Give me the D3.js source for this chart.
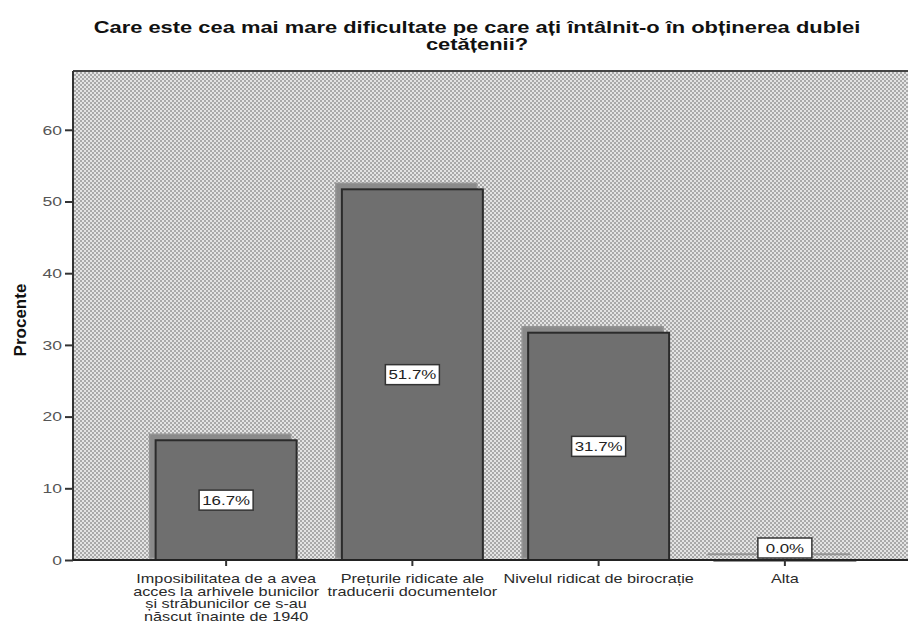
<!DOCTYPE html>
<html>
<head>
<meta charset="utf-8">
<script src="https://cdn.jsdelivr.net/npm/d3@7"></script>
<style>
  body{margin:0;background:#fff;}
  svg{display:block;font-family:"Liberation Sans",Arial,sans-serif;}
</style>
</head>
<body>
<div id="chart"></div>
<script>
// date
var categorii=[
    ["Imposibilitatea de a avea","acces la arhivele bunicilor","și străbunicilor ce s-au","născut înainte de 1940"],
    ["Prețurile ridicate ale","traducerii documentelor"],
    ["Nivelul ridicat de birocrație"],
    ["Alta"]
];
var procente=[16.7,51.7,31.7,0.0];
var etichete=["16.7%","51.7%","31.7%","0.0%"];
var yTicks=[0,10,20,30,40,50,60];

var width=908,height=633;
var margin={left:73,right:0,top:71,bottom:73};
var sx=1.3; //textul din imagine e intins pe orizontala

var svg=d3.select("#chart").append("svg")
    .attr("width",width)
    .attr("height",height);

// fundal in carouri
var defs=svg.append("defs");
var pat=defs.append("pattern")
    .attr("id","carouri")
    .attr("patternUnits","userSpaceOnUse")
    .attr("width",4).attr("height",4);
pat.append("rect").attr("width",4).attr("height",4).attr("fill","#e4e4e4");
pat.append("rect").attr("width",2).attr("height",2).attr("fill","#a9a9a9");
pat.append("rect").attr("x",2).attr("y",2).attr("width",2).attr("height",2).attr("fill","#a9a9a9");

var idx=d3.range(procente.length);
var x=d3.scaleBand()
    .domain(idx)
    .range([133,878])
    .paddingInner(0.243)
    .paddingOuter(0.1215);
var y=d3.scaleLinear()
    .domain([0,68.2])
    .range([height-margin.bottom,margin.top]);

svg.append("rect")
    .attr("x",margin.left).attr("y",margin.top)
    .attr("width",width-margin.left).attr("height",y(0)-margin.top)
    .attr("fill","url(#carouri)");

// titlu
var titlu=svg.append("g")
    .attr("transform","translate(477,0) scale(1.37,1)");
titlu.append("text")
    .attr("text-anchor","middle")
    .attr("font-weight","bold")
    .attr("font-size",16)
    .attr("fill","#111")
    .attr("x",0).attr("y",33)
    .text("Care este cea mai mare dificultate pe care ați întâlnit-o în obținerea dublei");
titlu.append("text")
    .attr("text-anchor","middle")
    .attr("font-weight","bold")
    .attr("font-size",16)
    .attr("fill","#111")
    .attr("x",0).attr("y",50)
    .text("cetățenii?");

// umbre
svg.append("g").selectAll("rect")
    .data(idx)
    .enter().append("rect")
    .attr("x",function(i){return x(i)-6;})
    .attr("y",function(i){return y(procente[i])-6;})
    .attr("width",x.bandwidth())
    .attr("height",function(i){var h=y(0)-y(procente[i]);return h>0?h+4:0.5;})
    .attr("fill","#8a8a8a")
    .attr("stroke","#949494")
    .attr("stroke-width",1.5);

// bare
svg.append("g").selectAll("rect")
    .data(idx)
    .enter().append("rect")
    .attr("x",function(i){return x(i);})
    .attr("y",function(i){return y(procente[i]);})
    .attr("width",x.bandwidth())
    .attr("height",function(i){return Math.max(y(0)-y(procente[i]),0.5);})
    .attr("fill","#6f6f6f")
    .attr("stroke","#2b2b2b")
    .attr("stroke-width",2);

// chenar
svg.append("line")
    .attr("x1",margin.left).attr("x2",width)
    .attr("y1",margin.top).attr("y2",margin.top)
    .attr("stroke","#444").attr("stroke-width",2);

// axa y
var yAxis=svg.append("g")
    .attr("transform","translate("+margin.left+",0)")
    .call(d3.axisLeft(y).tickValues(yTicks).tickSize(8).tickPadding(2));
yAxis.select(".domain").attr("stroke","#333").attr("stroke-width",2)
    .attr("d","M0,"+margin.top+"V"+y(0));
yAxis.selectAll(".tick line").attr("stroke","#333").attr("stroke-width",2);
yAxis.selectAll(".tick text").attr("font-size",13.5).attr("fill","#555")
    .attr("font-family","Liberation Sans, Arial, sans-serif")
    .attr("x",null)
    .attr("transform","translate(-11,0) scale("+sx+",1)");

// axa x
var xAxis=svg.append("g")
    .attr("transform","translate(0,"+y(0)+")")
    .call(d3.axisBottom(x).tickSize(6).tickFormat(""));
xAxis.select(".domain").attr("stroke","#222").attr("stroke-width",2)
    .attr("d","M"+margin.left+",0H"+width);
xAxis.selectAll(".tick line").attr("stroke","#333").attr("stroke-width",2);

svg.append("g").selectAll("g")
    .data(idx)
    .enter().append("g")
    .attr("transform",function(i){return "translate("+(x(i)+x.bandwidth()/2)+","+y(0)+") scale("+sx+",1)";})
    .append("text")
    .attr("text-anchor","middle")
    .attr("font-size",12.5)
    .attr("fill","#2a2a2a")
    .each(function(i){
        var t=d3.select(this);
        categorii[i].forEach(function(linie,k){
            t.append("tspan")
                .attr("x",0)
                .attr("y",23+k*12.7)
                .text(linie);
        });
    });

// etichete valori
var et=svg.append("g").selectAll("g")
    .data(idx)
    .enter().append("g")
    .attr("transform",function(i){
        var cy=procente[i]>0?(y(procente[i])+y(0))/2:y(0)-12;
        return "translate("+(x(i)+x.bandwidth()/2)+","+cy+")";
    });
et.append("rect")
    .attr("x",-27).attr("y",-10)
    .attr("width",54).attr("height",20)
    .attr("fill","#fff")
    .attr("stroke","#333")
    .attr("stroke-width",1.5);
et.append("text")
    .attr("text-anchor","middle")
    .attr("dy","0.36em")
    .attr("font-size",13)
    .attr("fill","#222")
    .attr("transform","scale("+sx+",1)")
    .text(function(i){return etichete[i];});

// titlu axa y
svg.append("text")
    .attr("transform","translate(26,320) rotate(-90)")
    .attr("text-anchor","middle")
    .attr("font-weight","bold")
    .attr("font-size",17)
    .attr("fill","#111")
    .text("Procente");
</script>
</body>
</html>
